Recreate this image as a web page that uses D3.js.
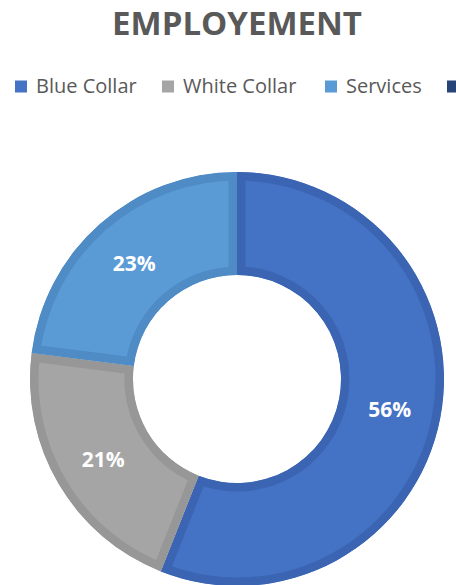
<!DOCTYPE html>
<html>
<head>
<meta charset="utf-8">
<script src="https://cdn.jsdelivr.net/npm/d3@7"></script>
<style>
  body { margin: 0; background: #fff; overflow: hidden; }
  svg { display: block; }
</style>
</head>
<body>
<svg></svg>
<script>
const width = 456, height = 585;
const svg = d3.select("svg").attr("width", width).attr("height", height);

// Data
const categories = ["Blue Collar", "White Collar", "Services", "Other"];
const values = [56, 21, 23, 0];
const colors = ["#4472C4", "#A5A5A5", "#5B9BD5", "#264478"];
const borders = ["#3B65B2", "#979797", "#4F8BC4", "#1F3A66"];

// Title
svg.append("text")
    .attr("x", 237)
    .attr("y", 35)
    .attr("text-anchor", "middle")
    .attr("font-family", "Open Sans, sans-serif")
    .attr("font-weight", "bold")
    .attr("font-size", 33)
    .attr("fill", "#595959")
    .text("EMPLOYEMENT");

// Legend (4th entry is cut off by the frame, only its swatch shows)
const legendX = [15, 162, 325, 447];
const legend = svg.selectAll("g.legend")
    .data(categories)
    .enter().append("g")
    .attr("class", "legend")
    .attr("transform", (d, i) => `translate(${legendX[i]},80.5)`);

legend.append("rect")
    .attr("width", 12)
    .attr("height", 12)
    .attr("fill", (d, i) => colors[i]);

legend.filter((d, i) => legendX[i] < 400).append("text")
    .attr("x", 21)
    .attr("y", 12.8)
    .attr("font-family", "Open Sans, sans-serif")
    .attr("font-size", 20)
    .attr("fill", "#595959")
    .text(d => d);

// Donut
const cx = 237, cy = 379;
const outerR = 207, innerR = 104;

const pie = d3.pie().sort(null).value(d => d)(values);
const arc = d3.arc().innerRadius(innerR).outerRadius(outerR);
const labelArc = d3.arc().innerRadius((innerR + outerR) / 2).outerRadius((innerR + outerR) / 2);

const g = svg.append("g").attr("transform", `translate(${cx},${cy})`);
const defs = svg.append("defs");

pie.forEach((p, i) => {
    if (p.value <= 0) return;
    defs.append("clipPath").attr("id", "clip" + i)
        .append("path").attr("d", arc(p));
    g.append("path")
        .attr("d", arc(p))
        .attr("fill", colors[i])
        .attr("stroke", borders[i])
        .attr("stroke-width", 17)
        .attr("clip-path", `url(#clip${i})`);
});

// Labels
g.selectAll("text.lbl")
    .data(pie.filter(p => p.value > 0))
    .enter().append("text")
    .attr("class", "lbl")
    .attr("transform", d => `translate(${labelArc.centroid(d)})`)
    .attr("dy", "0.4em")
    .attr("text-anchor", "middle")
    .attr("font-family", "Open Sans, sans-serif")
    .attr("font-weight", "bold")
    .attr("font-size", 21)
    .attr("fill", "#fff")
    .text(d => d.value + "%");
</script>
</body>
</html>
